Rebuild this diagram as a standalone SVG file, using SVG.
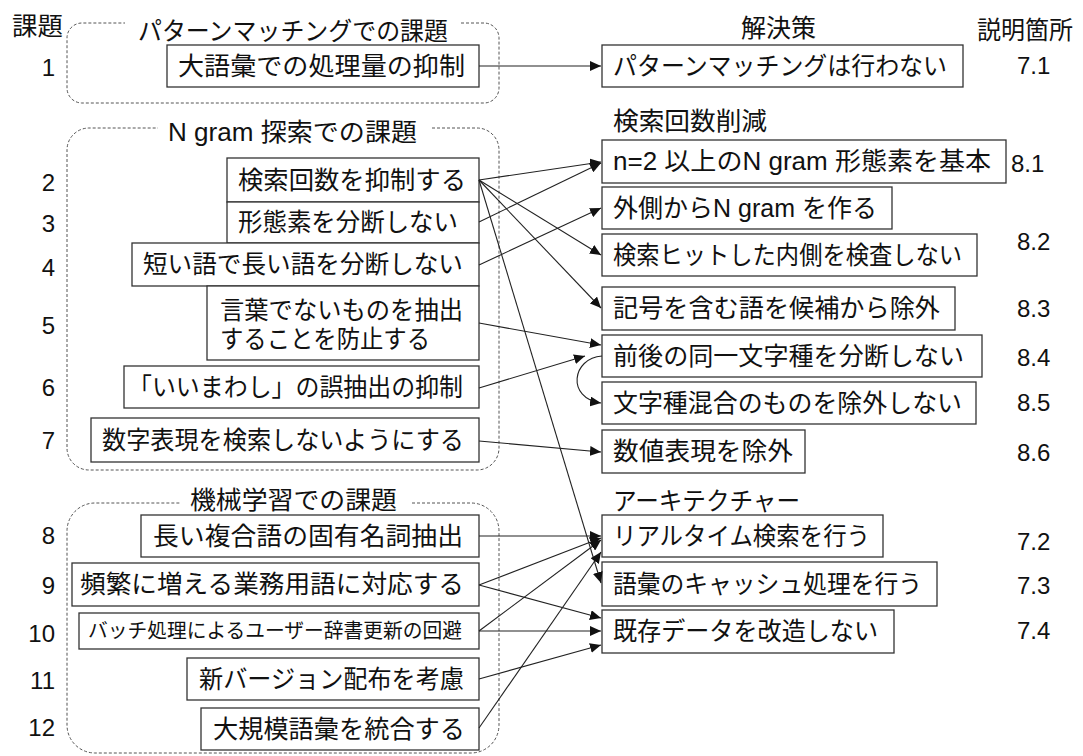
<svg xmlns="http://www.w3.org/2000/svg" width="1083" height="756" viewBox="0 0 1083 756">
<style>
.t{font-family:"Liberation Sans","Noto Sans CJK JP",sans-serif;font-size:25px;fill:#111}
.s{font-size:20px}
.n{font-family:"Liberation Sans",Arial,sans-serif;font-size:24px;fill:#111}
.nr{font-family:"Liberation Sans",Arial,sans-serif;font-size:24px;fill:#111;text-anchor:end}
.box{fill:#fff;stroke:#333;stroke-width:1.3}
.grp{fill:none;stroke:#555;stroke-width:1;stroke-dasharray:3 2}
.c{fill:none;stroke:#222;stroke-width:1.1;marker-end:url(#ah)}
</style>
<defs>
<marker id="ah" markerUnits="userSpaceOnUse" markerWidth="12" markerHeight="10" refX="11" refY="5" orient="auto">
<path d="M0,0 L11,5 L0,10 z" fill="#111"/>
</marker>
</defs>
<rect width="1083" height="756" fill="#fff"/>

<!-- headings -->
<g id="headings">
<text class="t" x="12" y="35" textLength="51" lengthAdjust="spacingAndGlyphs">課題</text>
<text class="t" x="741" y="37" textLength="75" lengthAdjust="spacingAndGlyphs">解決策</text>
<text class="t" x="977" y="39" textLength="96" lengthAdjust="spacingAndGlyphs">説明箇所</text>
<text class="t" x="613" y="130" textLength="154" lengthAdjust="spacingAndGlyphs">検索回数削減</text>
<text class="t" x="613" y="510" textLength="187" lengthAdjust="spacingAndGlyphs">アーキテクチャー</text>
</g>

<!-- groups -->
<g id="group-pattern">
<path class="grp" d="M461,23 H484 A15,15 0 0 1 499,38 V88 A15,15 0 0 1 484,103 H82 A15,15 0 0 1 67,88 V38 A15,15 0 0 1 82,23 H125"/>
<text class="t" x="138" y="40" textLength="310" lengthAdjust="spacingAndGlyphs">パターンマッチングでの課題</text>
</g>
<g id="group-ngram">
<path class="grp" d="M432,128 H477 A22,22 0 0 1 499,150 V448 A22,22 0 0 1 477,470 H89 A22,22 0 0 1 67,448 V150 A22,22 0 0 1 89,128 H158"/>
<text class="t" x="168" y="141" textLength="249" lengthAdjust="spacingAndGlyphs">N gram 探索での課題</text>
</g>
<g id="group-ml">
<path class="grp" d="M412,503 H471 A28,28 0 0 1 499,531 V725 A28,28 0 0 1 471,753 H95 A28,28 0 0 1 67,725 V531 A28,28 0 0 1 95,503 H181"/>
<text class="t" x="190" y="509" textLength="207" lengthAdjust="spacingAndGlyphs">機械学習での課題</text>
</g>

<!-- left numbers -->
<g id="issue-numbers">
<text class="nr" x="55" y="76">1</text>
<text class="nr" x="55" y="191">2</text>
<text class="nr" x="55" y="232">3</text>
<text class="nr" x="55" y="276">4</text>
<text class="nr" x="55" y="334">5</text>
<text class="nr" x="55" y="396">6</text>
<text class="nr" x="55" y="449">7</text>
<text class="nr" x="55" y="544">8</text>
<text class="nr" x="55" y="594">9</text>
<text class="nr" x="55" y="642">10</text>
<text class="nr" x="55" y="689">11</text>
<text class="nr" x="55" y="736">12</text>
</g>

<!-- issue nodes -->
<g id="issue1"><rect class="box" x="167" y="45" width="312" height="42"/><text class="t" x="178" y="75" textLength="287" lengthAdjust="spacingAndGlyphs">大語彙での処理量の抑制</text></g>
<g id="issue2"><rect class="box" x="227" y="158" width="252" height="44"/><text class="t" x="238" y="189" textLength="228" lengthAdjust="spacingAndGlyphs">検索回数を抑制する</text></g>
<g id="issue3"><rect class="box" x="227" y="202" width="252" height="41"/><text class="t" x="238" y="231" textLength="220" lengthAdjust="spacingAndGlyphs">形態素を分断しない</text></g>
<g id="issue4"><rect class="box" x="132" y="243" width="347" height="43"/><text class="t" x="143" y="273" textLength="320" lengthAdjust="spacingAndGlyphs">短い語で長い語を分断しない</text></g>
<g id="issue5"><rect class="box" x="207" y="286" width="272" height="74"/><text class="t" x="220" y="319" textLength="243" lengthAdjust="spacingAndGlyphs">言葉でないものを抽出</text><text class="t" x="220" y="348" textLength="210" lengthAdjust="spacingAndGlyphs">することを防止する</text></g>
<g id="issue6"><rect class="box" x="124" y="366" width="355" height="42"/><text class="t" x="128" y="396" textLength="335" lengthAdjust="spacingAndGlyphs">「いいまわし」の誤抽出の抑制</text></g>
<g id="issue7"><rect class="box" x="91" y="418" width="388" height="44"/><text class="t" x="102" y="449" textLength="362" lengthAdjust="spacingAndGlyphs">数字表現を検索しないようにする</text></g>
<g id="issue8"><rect class="box" x="141" y="515" width="338" height="42"/><text class="t" x="153" y="545" textLength="310" lengthAdjust="spacingAndGlyphs">長い複合語の固有名詞抽出</text></g>
<g id="issue9"><rect class="box" x="72" y="563" width="407" height="43"/><text class="t" x="80" y="593" textLength="384" lengthAdjust="spacingAndGlyphs">頻繁に増える業務用語に対応する</text></g>
<g id="issue10"><rect class="box" x="79" y="613" width="400" height="36"/><text class="t s" x="88" y="638" textLength="374" lengthAdjust="spacingAndGlyphs">バッチ処理によるユーザー辞書更新の回避</text></g>
<g id="issue11"><rect class="box" x="187" y="658" width="292" height="42"/><text class="t" x="199" y="688" textLength="265" lengthAdjust="spacingAndGlyphs">新バージョン配布を考慮</text></g>
<g id="issue12"><rect class="box" x="201" y="708" width="278" height="42"/><text class="t" x="213" y="738" textLength="252" lengthAdjust="spacingAndGlyphs">大規模語彙を統合する</text></g>

<!-- solution nodes -->
<g id="sol1"><rect class="box" x="602" y="45" width="361" height="42"/><text class="t" x="613" y="75" textLength="334" lengthAdjust="spacingAndGlyphs">パターンマッチングは行わない</text></g>
<g id="sol2"><rect class="box" x="602" y="140" width="404" height="43"/><text class="t" x="613" y="170" textLength="378" lengthAdjust="spacingAndGlyphs">n=2 以上のN gram 形態素を基本</text></g>
<g id="sol3"><rect class="box" x="602" y="187" width="290" height="42"/><text class="t" x="613" y="217" textLength="264" lengthAdjust="spacingAndGlyphs">外側からN gram を作る</text></g>
<g id="sol4"><rect class="box" x="602" y="234" width="375" height="42"/><text class="t" x="613" y="264" textLength="349" lengthAdjust="spacingAndGlyphs">検索ヒットした内側を検査しない</text></g>
<g id="sol5"><rect class="box" x="602" y="287" width="353" height="43"/><text class="t" x="613" y="317" textLength="327" lengthAdjust="spacingAndGlyphs">記号を含む語を候補から除外</text></g>
<g id="sol6"><rect class="box" x="602" y="335" width="380" height="42"/><text class="t" x="613" y="365" textLength="351" lengthAdjust="spacingAndGlyphs">前後の同一文字種を分断しない</text></g>
<g id="sol7"><rect class="box" x="602" y="382" width="374" height="42"/><text class="t" x="613" y="412" textLength="349" lengthAdjust="spacingAndGlyphs">文字種混合のものを除外しない</text></g>
<g id="sol8"><rect class="box" x="602" y="430" width="203" height="43"/><text class="t" x="613" y="460" textLength="180" lengthAdjust="spacingAndGlyphs">数値表現を除外</text></g>
<g id="sol9"><rect class="box" x="602" y="515" width="281" height="42"/><text class="t" x="613" y="545" textLength="257" lengthAdjust="spacingAndGlyphs">リアルタイム検索を行う</text></g>
<g id="sol10"><rect class="box" x="602" y="562" width="335" height="44"/><text class="t" x="613" y="593" textLength="309" lengthAdjust="spacingAndGlyphs">語彙のキャッシュ処理を行う</text></g>
<g id="sol11"><rect class="box" x="602" y="610" width="292" height="43"/><text class="t" x="613" y="640" textLength="265" lengthAdjust="spacingAndGlyphs">既存データを改造しない</text></g>

<!-- section numbers -->
<g id="section-numbers">
<text class="n" x="1017" y="74">7.1</text>
<text class="n" x="1011" y="172">8.1</text>
<text class="n" x="1017" y="250">8.2</text>
<text class="n" x="1017" y="317">8.3</text>
<text class="n" x="1017" y="366">8.4</text>
<text class="n" x="1017" y="411">8.5</text>
<text class="n" x="1017" y="461">8.6</text>
<text class="n" x="1017" y="550">7.2</text>
<text class="n" x="1017" y="594">7.3</text>
<text class="n" x="1017" y="639">7.4</text>
</g>

<!-- connectors -->
<g id="connectors">
<path class="c" d="M479,66 L601,66"/>
<path class="c" d="M479,180 L601,162"/>
<path class="c" d="M479,180 L601,255"/>
<path class="c" d="M479,180 L601,308"/>
<path class="c" d="M479,180 L601,583"/>
<path class="c" d="M479,222 L601,163"/>
<path class="c" d="M479,265 L601,208"/>
<path class="c" d="M479,323 L601,345"/>
<path class="c" d="M479,388 L585,356"/>
<path class="c" d="M602,356 C572,358 566,398 601,403"/>
<path class="c" d="M479,441 L601,452"/>
<path class="c" d="M479,536 L601,536"/>
<path class="c" d="M479,585 L601,538"/>
<path class="c" d="M479,585 L601,618"/>
<path class="c" d="M479,631 L601,540"/>
<path class="c" d="M479,631 L601,631"/>
<path class="c" d="M479,679 L601,645"/>
<path class="c" d="M479,728 L601,552"/>
</g>
</svg>
